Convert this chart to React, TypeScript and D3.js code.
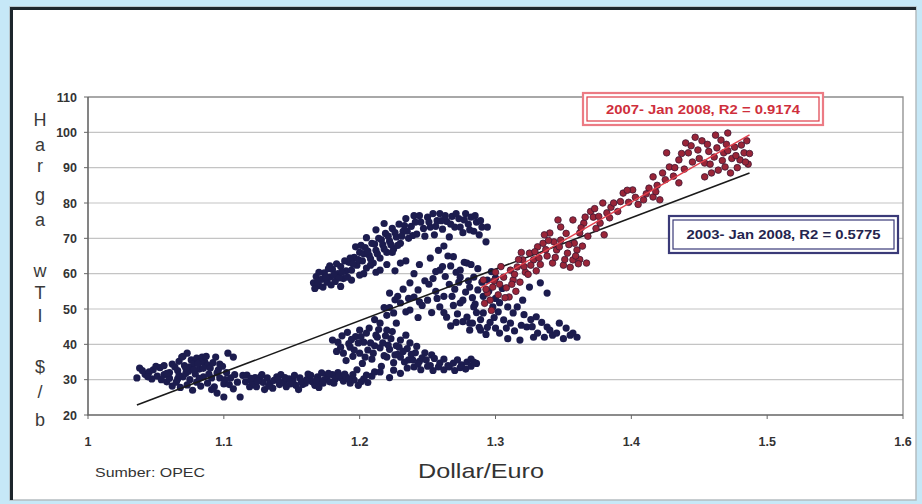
import React, { useEffect, useRef } from 'react';
import * as d3 from 'd3';

type Pt = [number, number];

// axis ticks
const xTicks = [1, 1.1, 1.2, 1.3, 1.4, 1.5, 1.6];
const yTicks = [20, 30, 40, 50, 60, 70, 80, 90, 100, 110];

// 2003 - 2006 (navy)
const navyPoints: Pt[] = [
  // early 2003-2004 cluster
  [1.036,30.5],[1.038,33.3],[1.042,31.5],[1.045,32.2],[1.048,32.8],[1.051,31.0],[1.053,33.4],[1.056,31.4],[1.058,29.4],[1.060,32.0],
  [1.062,28.2],[1.064,33.6],[1.066,30.2],[1.067,35.2],[1.069,36.4],[1.071,34.0],[1.073,37.5],[1.074,32.4],[1.075,33.6],[1.076,35.6],
  [1.078,34.6],[1.080,36.1],[1.082,33.0],[1.084,36.4],[1.086,35.0],[1.088,34.1],[1.090,33.3],[1.070,30.8],[1.065,29.3],[1.068,27.8],
  [1.073,28.5],[1.077,27.0],[1.080,29.3],[1.083,28.2],[1.085,30.8],[1.088,29.0],[1.091,30.5],[1.093,28.0],[1.095,31.9],[1.094,36.4],
  [1.097,34.4],[1.103,37.5],[1.107,36.4],[1.095,26.2],[1.100,25.1],[1.097,30.5],[1.100,28.8],[1.102,32.0],[1.105,30.5],[1.107,27.4],
  [1.110,29.3],[1.112,25.1],[1.079,31.6],[1.072,31.8],[1.060,30.4],[1.047,30.2],[1.056,34.0],[1.083,35.0],
  [1.040,32.6],[1.044,30.8],[1.050,33.8],[1.054,30.0],[1.058,31.8],[1.062,34.4],[1.066,32.6],[1.070,36.6],[1.072,33.2],[1.075,30.0],
  [1.078,32.8],[1.081,34.6],[1.085,33.2],[1.087,36.6],[1.089,31.6],[1.092,34.8],[1.096,32.8],[1.099,33.8],[1.101,30.0],[1.104,28.6],
  [1.108,31.4],[1.067,31.2],[1.082,30.4],[1.091,27.2],
  // low band
  [1.114,31.2],[1.117,31.3],[1.119,28.0],[1.121,29.3],[1.123,30.6],[1.124,28.0],[1.127,30.8],[1.129,29.2],[1.132,30.5],[1.134,29.0],
  [1.136,27.6],[1.139,30.8],[1.141,28.6],[1.144,29.3],[1.146,28.0],[1.148,30.2],[1.151,29.9],[1.153,28.4],[1.156,30.5],[1.158,28.6],
  [1.160,29.0],[1.163,30.5],[1.165,29.4],[1.167,28.4],[1.169,30.8],[1.171,29.6],[1.172,31.9],[1.174,30.0],[1.176,30.8],[1.178,29.4],
  [1.180,31.4],[1.182,30.2],[1.184,32.0],[1.130,27.2],[1.142,31.4],[1.155,27.2],[1.162,31.6],[1.170,27.8],[1.186,30.6],[1.188,29.6],
  [1.190,30.8],[1.193,29.0],[1.196,29.9],[1.199,28.4],[1.203,30.2],[1.206,29.2],[1.209,31.0],
  [1.116,29.4],[1.120,30.4],[1.125,29.6],[1.128,31.4],[1.133,28.2],[1.137,29.8],[1.140,30.0],[1.145,30.6],[1.149,28.8],[1.152,31.2],
  [1.157,29.6],[1.161,30.0],[1.164,31.2],[1.168,29.8],[1.173,29.0],[1.177,31.8],[1.181,29.0],[1.185,31.2],[1.189,31.6],[1.192,30.2],
  [1.195,31.4],[1.201,29.4],
  [1.250,33.8],[1.254,32.6],[1.258,33.6],[1.262,32.8],[1.266,33.6],[1.270,32.6],[1.274,33.4],[1.278,33.0],[1.282,33.8],[1.286,34.6],
  [1.240,33.6],[1.236,35.6],[1.244,35.2],[1.248,37.6],[1.253,37.0],
  // 35-45 cluster
  [1.180,41.2],[1.183,38.0],[1.186,39.2],[1.188,37.5],[1.190,35.4],[1.192,40.2],[1.193,39.2],[1.195,36.6],[1.197,42.2],[1.200,44.0],
  [1.200,37.5],[1.202,34.6],[1.203,40.6],[1.205,43.2],[1.206,38.4],[1.208,40.4],[1.209,35.8],[1.210,37.5],[1.212,42.6],[1.213,42.0],
  [1.215,39.0],[1.216,33.8],[1.217,40.4],[1.218,36.8],[1.220,44.0],[1.220,36.4],[1.222,38.6],[1.223,41.6],[1.225,34.8],[1.227,39.6],
  [1.228,37.2],[1.230,41.2],[1.230,36.4],[1.233,35.0],[1.235,38.8],[1.237,40.4],[1.239,35.6],[1.241,37.6],[1.243,34.4],[1.246,36.2],
  [1.249,35.6],[1.252,34.0],[1.255,36.0],[1.259,34.7],[1.262,35.8],[1.265,34.0],[1.269,34.7],[1.272,35.6],[1.275,34.2],[1.279,35.0],
  [1.282,35.8],[1.284,35.0],[1.211,32.2],[1.198,32.8],[1.205,31.3],[1.215,32.2],[1.225,32.7],[1.235,33.3],[1.222,30.6],[1.230,31.8],
  [1.245,32.8],
  [1.184,40.6],[1.187,42.4],[1.191,43.4],[1.194,41.4],[1.196,38.4],[1.199,40.4],[1.201,42.2],[1.204,36.4],[1.207,44.6],[1.211,39.6],
  [1.214,44.2],[1.219,42.4],[1.221,39.8],[1.224,43.6],[1.226,37.0],[1.229,39.2],[1.232,38.0],[1.234,42.6],[1.238,37.2],[1.242,39.4],
  [1.211,47.0],[1.218,50.4],[1.228,53.6],[1.236,53.0],[1.244,52.0],
  // middle arm
  [1.215,46.0],[1.220,48.2],[1.222,50.4],[1.225,48.9],[1.226,52.6],[1.227,46.0],[1.222,54.5],[1.230,51.7],[1.232,55.6],[1.234,49.2],
  [1.237,49.7],[1.240,53.4],[1.243,47.6],[1.246,51.0],[1.250,52.5],[1.253,49.0],[1.256,55.0],[1.259,50.6],[1.262,53.6],[1.264,47.7],
  [1.267,45.2],[1.269,51.0],[1.272,48.6],[1.274,51.7],[1.276,46.4],[1.279,47.7],[1.281,44.0],[1.283,46.0],[1.286,49.0],[1.288,44.8],
  [1.291,48.9],[1.293,42.8],[1.296,46.2],[1.298,50.6],[1.300,44.6],[1.303,43.2],[1.306,46.9],[1.309,41.6],[1.313,48.9],[1.316,50.6],
  [1.318,41.2],[1.320,52.5],[1.323,44.9],[1.326,47.0],[1.328,42.0],[1.331,43.2],[1.334,46.2],[1.338,44.9],[1.342,42.6],[1.345,43.2],
  [1.350,41.6],[1.357,43.2],[1.360,42.0],[1.352,44.6],[1.281,46.0],[1.289,44.0],
  [1.279,63.0],[1.274,59.0],[1.281,56.2],[1.276,52.5],[1.284,50.6],[1.325,56.2],[1.333,57.4],[1.338,54.5],[1.300,53.0],[1.305,55.8],
  [1.254,58.6],[1.259,61.0],[1.263,59.2],[1.266,57.0],[1.270,55.6],[1.273,57.6],[1.278,54.8],[1.283,53.2],[1.287,55.4],[1.291,53.6],
  [1.295,55.0],[1.268,53.6],[1.262,49.0],[1.257,53.0],[1.271,46.2],[1.285,51.4],[1.289,47.0],[1.294,44.8],[1.299,47.6],[1.302,49.2],
  [1.308,44.6],[1.311,46.0],[1.314,43.8],[1.319,45.4],[1.321,48.4],[1.327,45.0],[1.330,47.8],[1.336,42.0],[1.340,44.0],[1.347,46.0],
  [1.355,42.6],[1.309,50.6],[1.303,51.8],
  // upper arc
  [1.166,57.4],[1.168,59.2],[1.170,56.6],[1.172,58.4],[1.174,60.2],[1.176,57.6],[1.178,59.0],[1.180,61.2],[1.182,57.8],[1.184,60.0],
  [1.186,62.0],[1.188,58.6],[1.190,60.8],[1.192,63.2],[1.194,61.0],[1.196,64.6],[1.198,62.4],[1.200,66.0],[1.200,59.6],[1.202,63.6],
  [1.204,67.4],[1.205,61.6],[1.207,65.2],[1.209,68.6],[1.210,63.0],[1.212,66.6],[1.214,70.0],[1.215,64.4],[1.217,68.2],[1.219,71.4],
  [1.220,66.0],[1.222,69.2],[1.224,72.8],[1.225,67.0],[1.227,70.4],[1.229,74.0],[1.230,68.6],[1.232,72.0],[1.234,75.6],[1.236,70.0],
  [1.238,73.4],[1.240,76.4],[1.242,71.2],[1.245,74.6],[1.248,70.6],[1.250,76.0],[1.252,73.2],[1.255,71.0],[1.257,75.0],[1.259,77.0],
  [1.261,72.6],[1.264,74.8],[1.266,70.4],[1.268,76.2],[1.270,73.2],[1.273,75.6],[1.276,71.6],[1.278,77.0],[1.280,74.0],[1.282,76.0],
  [1.284,72.0],[1.286,74.6],[1.288,71.0],[1.290,73.2],[1.294,73.2],[1.293,69.0],
  [1.262,67.8],[1.265,65.0],[1.269,64.8],[1.267,62.2],[1.271,60.4],[1.274,61.0],[1.277,63.2],[1.280,58.0],[1.284,59.0],[1.287,61.4],
  [1.290,57.6],[1.294,58.2],[1.261,62.0],[1.256,60.6],[1.252,64.4],[1.258,66.6],[1.248,58.0],[1.244,62.6],[1.240,60.0],[1.237,57.4],
  [1.234,63.6],[1.243,55.4],[1.251,57.0],[1.282,62.6],[1.297,60.6],[1.300,58.8],[1.226,60.8],[1.230,63.0],[1.212,60.4],
  [1.170,60.4],[1.178,62.2],[1.186,56.4],[1.194,58.2],[1.203,60.0],[1.208,62.4],[1.215,61.0],[1.220,62.6],[1.197,67.6],[1.205,70.2],
  [1.212,72.4],[1.218,74.2],[1.224,66.0],
  [1.167,55.8],[1.169,57.8],[1.173,56.2],[1.175,59.0],[1.177,61.4],[1.179,56.8],[1.181,59.6],[1.183,62.8],[1.185,58.8],[1.187,60.4],
  [1.189,63.6],[1.191,59.0],[1.193,64.4],[1.195,62.8],[1.199,64.0],[1.201,68.0],[1.203,65.6],[1.206,66.4],[1.208,64.2],[1.211,68.4],
  [1.213,65.6],[1.216,69.6],[1.218,67.0],[1.221,70.6],[1.223,68.2],[1.226,71.6],[1.228,68.0],[1.231,70.6],[1.233,73.6],[1.235,72.0],
  [1.239,70.8],[1.241,74.6],[1.244,76.4],[1.247,72.8],[1.251,74.6],[1.254,77.0],[1.256,73.4],[1.260,75.0],[1.263,76.4],[1.267,74.0],
  [1.271,77.0],[1.274,73.2],[1.277,75.2],[1.281,72.4],[1.285,76.4],[1.289,75.0],
];

// 2007 - Jan 2008 (red)
const redPoints: Pt[] = [
  [1.291,58.2],[1.294,54.5],[1.298,56.2],[1.296,52.5],[1.302,54.0],[1.306,59.0],[1.308,56.0],[1.311,61.0],[1.313,58.2],[1.316,61.9],
  [1.318,57.6],[1.320,63.9],[1.322,60.4],[1.325,65.8],[1.328,63.9],[1.331,67.6],[1.333,62.6],[1.335,68.6],[1.338,65.0],[1.340,71.5],
  [1.342,63.0],[1.345,66.7],[1.348,69.5],[1.348,73.2],[1.350,62.4],[1.353,65.8],[1.355,61.8],[1.357,63.9],[1.357,75.2],[1.360,66.7],
  [1.362,71.5],[1.362,64.0],[1.365,74.3],[1.368,70.6],[1.370,77.6],[1.372,76.0],[1.374,72.8],[1.377,74.3],[1.380,71.0],[1.382,77.2],
  [1.379,80.0],[1.385,78.8],[1.387,80.0],[1.390,77.6],[1.394,82.8],[1.398,80.2],[1.401,83.7],[1.405,79.6],[1.409,80.9],[1.413,84.2],
  [1.416,81.7],[1.421,80.9],[1.416,87.4],[1.419,85.0],[1.423,88.5],[1.426,94.2],[1.428,90.2],[1.431,87.6],[1.435,92.2],[1.435,85.7],
  [1.439,89.6],[1.442,94.2],[1.445,91.6],[1.449,95.0],[1.452,97.6],[1.454,91.3],[1.454,87.4],[1.457,94.6],[1.459,88.5],[1.461,93.0],
  [1.464,89.3],[1.466,97.8],[1.468,94.2],[1.469,90.2],[1.471,99.8],[1.473,88.5],[1.474,92.6],[1.476,95.8],[1.478,90.0],[1.480,92.2],
  [1.483,94.2],[1.485,97.6],[1.486,91.0],[1.462,99.2],[1.447,98.6],[1.440,97.0],
  [1.300,60.4],[1.304,62.0],[1.310,53.4],[1.315,55.0],[1.319,66.0],[1.324,59.8],[1.330,60.8],[1.336,71.0],[1.343,69.0],[1.346,75.2],
  [1.352,71.4],[1.358,68.6],[1.364,67.8],[1.367,63.0],[1.292,51.6],[1.297,49.6],
  [1.293,55.6],[1.299,58.0],[1.303,57.0],[1.307,53.2],[1.312,57.0],[1.314,59.8],[1.317,64.0],[1.321,62.0],[1.326,62.4],[1.329,66.2],
  [1.332,64.4],[1.337,66.8],[1.339,69.4],[1.344,64.6],[1.347,67.6],[1.351,64.0],[1.354,68.2],[1.359,65.0],[1.361,62.8],[1.363,73.0],
  [1.366,76.0],[1.373,78.4],[1.376,76.2],[1.384,75.8],[1.392,80.4],[1.397,83.6],[1.403,81.6],[1.411,82.6],[1.418,83.2],[1.425,86.6],
  [1.432,90.0],[1.437,94.0],[1.444,96.2],[1.450,92.6],[1.456,96.6],[1.463,95.6],[1.467,92.0],[1.471,94.8],[1.477,93.4],[1.481,96.4],
  [1.484,91.6],[1.487,94.0],[1.458,91.0],[1.470,96.6],
];

// fitted lines, endpoints
const trendAll: Pt[] = [[1.036, 22.8], [1.487, 88.5]];
const trend2007: Pt[] = [[1.289, 56.0], [1.487, 99.3]];

const yLetters = ['H', 'a', 'r', 'g', 'a', 'w', 'T', 'I', '$', '/', 'b'];
const yLetterPos = [120, 145, 166, 195, 220, 271, 293, 316, 367, 392, 420];

export default function App() {
  const ref = useRef<SVGSVGElement>(null);

  useEffect(() => {
    if (!ref.current) return;
    const svg = d3.select(ref.current);
    svg.selectAll('*').remove();

    const x = d3.scaleLinear().domain([1, 1.6]).range([88, 903]);
    const y = d3.scaleLinear().domain([20, 110]).range([415, 97]);
    const font = 'Arial, "Liberation Sans", sans-serif';

    // background + frame
    svg.append('rect').attr('width', 922).attr('height', 504).attr('fill', '#c6e8f7');
    svg.append('rect').attr('x', 10).attr('y', 7).attr('width', 906).attr('height', 493)
      .attr('fill', '#fff').attr('stroke', '#b4bcc0').attr('stroke-width', 1.5);
    svg.append('path').attr('d', 'M11.5,500 L11.5,8.5 L916,8.5')
      .attr('fill', 'none').attr('stroke', '#1d262c').attr('stroke-width', 3);

    // grid
    svg.append('g').selectAll('line').data(yTicks.slice(1, -1)).join('line')
      .attr('x1', x(1)).attr('x2', x(1.6)).attr('y1', d => y(d)).attr('y2', d => y(d))
      .attr('stroke', '#c4c4c4').attr('stroke-width', 1.2);

    // plot border
    svg.append('path')
      .attr('d', `M${x(1)},${y(110)} L${x(1.6)},${y(110)} L${x(1.6)},${y(20)}`)
      .attr('fill', 'none').attr('stroke', '#8c8c8c').attr('stroke-width', 1.3);
    svg.append('path')
      .attr('d', `M${x(1)},${y(110)} L${x(1)},${y(20)} L${x(1.6)},${y(20)}`)
      .attr('fill', 'none').attr('stroke', '#666').attr('stroke-width', 1.6);

    // ticks
    svg.append('g').selectAll('line').data(yTicks).join('line')
      .attr('x1', x(1) - 4).attr('x2', x(1)).attr('y1', d => y(d)).attr('y2', d => y(d))
      .attr('stroke', '#666');
    svg.append('g').selectAll('line').data(xTicks).join('line')
      .attr('x1', d => x(d)).attr('x2', d => x(d)).attr('y1', y(20)).attr('y2', y(20) + 4)
      .attr('stroke', '#666');

    svg.append('g').selectAll('text').data(yTicks).join('text')
      .attr('x', 77).attr('y', d => y(d) + 4.5).attr('text-anchor', 'end')
      .attr('font-family', font).attr('font-size', 12.5).attr('font-weight', 'bold').attr('fill', '#333')
      .text(d => d);
    svg.append('g').selectAll('text').data(xTicks).join('text')
      .attr('x', d => x(d)).attr('y', 446).attr('text-anchor', 'middle')
      .attr('font-family', font).attr('font-size', 12.5).attr('font-weight', 'bold').attr('fill', '#333')
      .text(d => d);

    // vertical axis label, one letter per line
    svg.append('g').selectAll('text').data(yLetters).join('text')
      .attr('x', 40).attr('y', (d, i) => yLetterPos[i] + 6).attr('text-anchor', 'middle')
      .attr('font-family', font).attr('font-size', 18).attr('fill', '#3a3a3a')
      .text(d => d);

    // points
    svg.append('g').selectAll('circle').data(navyPoints).join('circle')
      .attr('cx', d => x(d[0])).attr('cy', d => y(d[1])).attr('r', 3.6)
      .attr('fill', '#1c1c4e');

    const line = d3.line<Pt>().x(d => x(d[0])).y(d => y(d[1]));
    svg.append('path').datum(trendAll).attr('d', line)
      .attr('fill', 'none').attr('stroke', '#1a1a1a').attr('stroke-width', 1.6);

    svg.append('g').selectAll('circle').data(redPoints).join('circle')
      .attr('cx', d => x(d[0])).attr('cy', d => y(d[1])).attr('r', 3.3)
      .attr('fill', '#9a2538').attr('stroke', '#3e1834').attr('stroke-width', 0.8);
    svg.append('path').datum(trend2007).attr('d', line)
      .attr('fill', 'none').attr('stroke', '#e2404c').attr('stroke-width', 1.4);

    // legend boxes
    const box = (bx: number, by: number, w: number, h: number, outer: string, inner: string, txt: string, color: string) => {
      svg.append('rect').attr('x', bx).attr('y', by).attr('width', w).attr('height', h)
        .attr('fill', '#fff').attr('stroke', outer).attr('stroke-width', 2.2);
      svg.append('rect').attr('x', bx + 4).attr('y', by + 4).attr('width', w - 8).attr('height', h - 8)
        .attr('fill', '#fff').attr('stroke', inner).attr('stroke-width', 1.2);
      svg.append('text').attr('x', bx + w / 2).attr('y', by + h / 2 + 4.5).attr('text-anchor', 'middle')
        .attr('font-family', font).attr('font-size', 12.5).attr('font-weight', 'bold').attr('fill', color)
        .attr('textLength', 194).attr('lengthAdjust', 'spacingAndGlyphs')
        .text(txt);
    };
    box(583, 93, 240, 32, '#ec7b84', '#de3c48', '2007- Jan 2008, R2 = 0.9174', '#cf2f3c');
    box(669, 216, 229, 37, '#3a3a78', '#3a3a78', '2003- Jan 2008, R2 = 0.5775', '#24244e');

    // captions
    svg.append('text').attr('x', 95).attr('y', 477)
      .attr('font-family', font).attr('font-size', 13).attr('fill', '#333')
      .attr('textLength', 110).attr('lengthAdjust', 'spacingAndGlyphs')
      .text('Sumber: OPEC');
    svg.append('text').attr('x', 418).attr('y', 478)
      .attr('font-family', font).attr('font-size', 21).attr('fill', '#333')
      .attr('textLength', 126).attr('lengthAdjust', 'spacingAndGlyphs')
      .text('Dollar/Euro');
  }, []);

  return (
    <svg ref={ref} width={922} height={504} style={{ position: 'absolute', left: 0, top: 0 }} />
  );
}
